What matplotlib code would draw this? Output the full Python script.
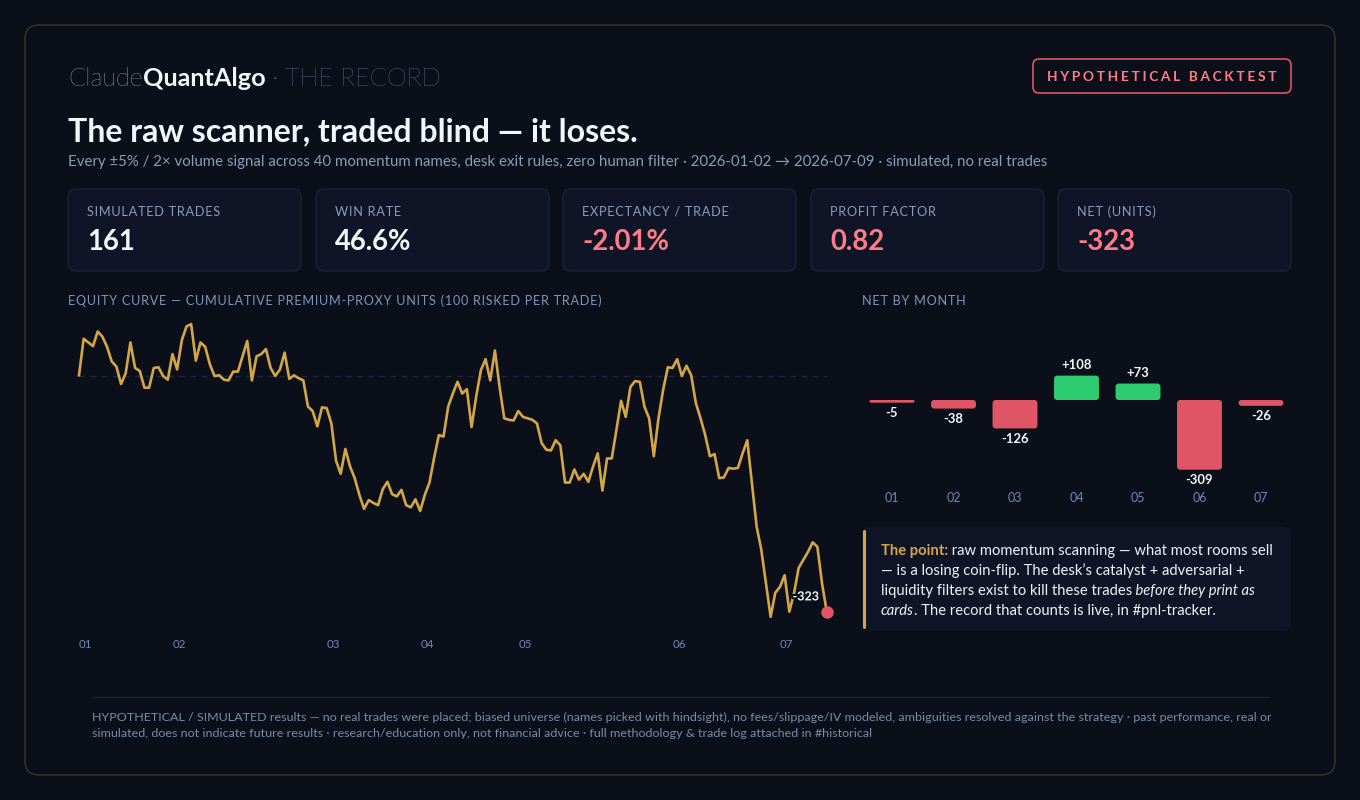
import matplotlib
matplotlib.use("Agg")
import matplotlib.pyplot as plt
import matplotlib.patheffects as pe
from matplotlib.patches import FancyBboxPatch
from matplotlib.lines import Line2D
import numpy as np

plt.rcParams['font.family'] = ['Lato', 'DejaVu Sans']

# ---- data ----
# cumulative units after each simulated trade (161 trades)
equity = [1, 51, 46, 41, 61, 54, 40, 20, 13, -11,
          4, 46, 11, 7, -16, -16, 11, 12, 0, -5,
          30, 9, 49, 68, 71, 21, 46, 40, 16, 0,
          1, -5, -6, 6, 6, 27, 48, -6, 27, 30,
          37, 11, 0, 9, 32, -4, 1, -3, -6, -42,
          -48, -69, -43, -44, -65, -116, -134, -100, -124, -140,
          -163, -182, -170, -174, -177, -155, -145, -162, -165, -156,
          -177, -180, -169, -185, -163, -146, -112, -81, -83, -42,
          -24, -8, -24, -18, -70, -28, 8, 23, -6, 35,
          -15, -58, -60, -61, -48, -56, -58, -60, -65, -92,
          -101, -102, -88, -95, -146, -146, -128, -142, -134, -145,
          -124, -106, -157, -113, -113, -74, -34, -56, -15, -7,
          -8, -42, -58, -110, -58, -19, 12, 11, 23, 0,
          14, 1, -37, -58, -81, -110, -107, -140, -139, -126,
          -127, -126, -106, -88, -147, -206, -238, -284, -330, -297,
          -289, -273, -323, -298, -263, -252, -241, -228, -234, -284,
          -323]

months = ["01", "02", "03", "04", "05", "06", "07"]
month_first_trade = [0, 20, 53, 73, 94, 127, 150]
month_net = [-5, -38, -126, 108, 73, -309, -26]

kpi_labels = ["SIMULATED TRADES", "WIN RATE", "EXPECTANCY / TRADE", "PROFIT FACTOR", "NET (UNITS)"]
kpi_values = ["161", "46.6%", "-2.01%", "0.82", "-323"]
kpi_bad = [False, False, True, True, True]

# ---- colours ----
BG = "#0b0f19"
PANEL_EC = "#3d3726"
CARD = "#0f1527"
CARD_EC = "#1b2337"
WHITE = "#f3f6fb"
MUTED = "#8d9bb5"
LABEL = "#8094b8"
TICK = "#6f88b8"
GOLD = "#d4a64a"
RED = "#e05566"
PINK = "#ff7b86"
GREEN = "#2ecc71"

W, H = 1360, 800
fig = plt.figure(figsize=(W / 100, H / 100), dpi=100)
fig.patch.set_facecolor(BG)
base = fig.add_axes([0, 0, 1, 1])
base.set_xlim(0, W)
base.set_ylim(H, 0)
base.axis("off")
renderer = fig.canvas.get_renderer()


def pt(px):
    return px * 0.72


def track(s, n=1):
    return ("\u200a" * n).join(s)


def frac(l, t, r, b):
    return [l / W, 1 - b / H, (r - l) / W, (b - t) / H]


def box(x, y, w, h, r, fc, ec, lw=1.0):
    base.add_patch(FancyBboxPatch((x, y), w, h, boxstyle=f"round,pad=0,rounding_size={r}",
                                  fc=fc, ec=ec, lw=lw))


def runs(x, y, parts, **common):
    for s, kw in parts:
        t = base.text(x, y, s, **{**common, **kw})
        x += t.get_window_extent(renderer).width
    return x


# outer panel
box(25, 25, 1310, 750, 14, BG, PANEL_EC, 1.0)

# header
runs(68, 86, [("Claude", dict(fontweight="light", color="#ffffff")),
              ("QuantAlgo", dict(fontweight="bold", color=WHITE)),
              (" \u00b7 THE RECORD", dict(fontweight="light", color="#8fa5cc"))],
     fontsize=pt(25.3), va="baseline")

box(1033, 59, 258, 34, 6, "none", RED, 1.2)
base.text(1162, 77, track("HYPOTHETICAL BACKTEST", 3), fontsize=pt(13.7), fontweight="bold",
          color=PINK, ha="center", va="center")

base.text(68, 141, "The raw scanner, traded blind \u2014 it loses.", fontsize=pt(32),
          fontweight="bold", color=WHITE, va="baseline")
base.text(68, 166, "Every \u00b15% / 2\u00d7 volume signal across 40 momentum names, desk exit rules, "
          "zero human filter \u00b7 2026-01-02 \u2192 2026-07-09 \u00b7 simulated, no real trades",
          fontsize=pt(15), color=MUTED, va="baseline")

# KPI cards
card_x = [68, 316, 563, 811, 1058]
for x0, lab, val, bad in zip(card_x, kpi_labels, kpi_values, kpi_bad):
    box(x0, 189, 233, 82, 8, CARD, CARD_EC, 1.0)
    base.text(x0 + 19, 212, track(lab), fontsize=pt(12.8), color=MUTED, va="center")
    base.text(x0 + 19, 242, val, fontsize=pt(27.5), fontweight="bold",
              color=PINK if bad else WHITE, va="center")

# section labels
base.text(68, 301, track("EQUITY CURVE \u2014 CUMULATIVE PREMIUM-PROXY UNITS (100 RISKED PER TRADE)"),
          fontsize=pt(12.6), color=LABEL, va="center")
base.text(862, 301, track("NET BY MONTH"), fontsize=pt(12.6), color=LABEL, va="center")

# ---- equity curve ----
ax = fig.add_axes(frac(68, 315, 836, 625))
ax.set_facecolor("none")
x = np.arange(len(equity))
ppx = (826.7 - 79) / (len(equity) - 1)
ppy = 0.7297
ax.set_xlim((68 - 79) / ppx, (836 - 79) / ppx)
ax.set_ylim((376 - 625) / ppy, (376 - 315) / ppy)
ax.hlines(0, 0, len(equity) - 1, color="#1d2740", lw=1, linestyles=(0, (4, 4)))
ax.plot(x, equity, color=GOLD, lw=1.9, solid_joinstyle="round")
ax.plot(x[-1], equity[-1], "o", ms=8, color=RED, zorder=4, clip_on=False)
ax.annotate(f"{equity[-1]}", xy=(x[-1], equity[-1]), xytext=(-5.5, 11), textcoords="offset points",
            ha="right", va="center", fontsize=pt(12.5), fontweight="bold", color=WHITE,
            path_effects=[pe.withStroke(linewidth=3, foreground=BG)])
ax.set_xticks(month_first_trade)
ax.set_xticklabels(months, ha="left", color=TICK, fontsize=pt(11.5))
ax.set_yticks([])
ax.tick_params(length=0, pad=10)
for s in ax.spines.values():
    s.set_visible(False)

# ---- net by month ----
bx = fig.add_axes(frac(861.25, 330, 1291.75, 480))
bx.set_facecolor("none")
bppy = 0.2255
bx.set_xlim(-0.5, 6.5)
bx.set_ylim(-80 / bppy, 70 / bppy)
bw = 0.73
asp = (1 / bppy) / (1 / 61.5)
for i, v in enumerate(month_net):
    h = v if abs(v) >= 12 else np.sign(v) * 12
    r = min(0.05, abs(h) / asp / 2)
    bx.add_patch(FancyBboxPatch((i - bw / 2, min(0, h)), bw, abs(h),
                                boxstyle=f"round,pad=0,rounding_size={r}", mutation_aspect=asp,
                                fc=GREEN if v > 0 else RED, ec="none"))
    bx.annotate(f"{v:+d}", xy=(i, h), xytext=(0, 7.5 if v > 0 else -7.5), textcoords="offset points",
                ha="center", va="center", fontsize=pt(13), fontweight="bold", color=WHITE)
bx.set_xticks(range(len(months)))
bx.set_xticklabels(months, color=TICK, fontsize=pt(12.5))
bx.set_yticks([])
bx.tick_params(length=0, pad=9)
for s in bx.spines.values():
    s.set_visible(False)

# ---- callout ----
box(862, 527, 429, 104, 8, CARD, "none")
base.add_line(Line2D([863.5, 863.5], [531, 627], color=GOLD, lw=2.2, solid_capstyle="round"))
norm = dict(color="#eef2f8")
ital = dict(color="#eef2f8", fontstyle="italic")
lines = [
    [("The point:", dict(color=GOLD, fontweight="bold")), (" raw momentum scanning \u2014 what most rooms sell", norm)],
    [("\u2014 is a losing coin-flip. The desk\u2019s catalyst + adversarial +", norm)],
    [("liquidity filters exist to kill these trades", norm), (" before they print as", ital)],
    [("cards", ital), (". The record that counts is live, in #pnl-tracker.", norm)],
]
for k, parts in enumerate(lines):
    runs(881, 555 + 20 * k, parts, fontsize=pt(14.8), va="baseline")

# ---- footer ----
base.add_line(Line2D([92, 1268], [697, 697], color="#1a2233", lw=1))
foot = ["HYPOTHETICAL / SIMULATED results \u2014 no real trades were placed; biased universe (names picked with "
        "hindsight), no fees/slippage/IV modeled, ambiguities resolved against the strategy \u00b7 past performance, real or",
        "simulated, does not indicate future results \u00b7 research/education only, not financial advice \u00b7 "
        "full methodology & trade log attached in #historical"]
# size the footer so its first line fills the divider width, as in the reference
probe = base.text(0, 0, foot[0], fontsize=10)
fsize = 10 * 1172 / probe.get_window_extent(renderer).width
probe.remove()
for k, s in enumerate(foot):
    base.text(92, 721 + 16 * k, s, fontsize=fsize, color="#7d8ba6", va="baseline")

fig.savefig("out.png", dpi=100, facecolor=BG)
